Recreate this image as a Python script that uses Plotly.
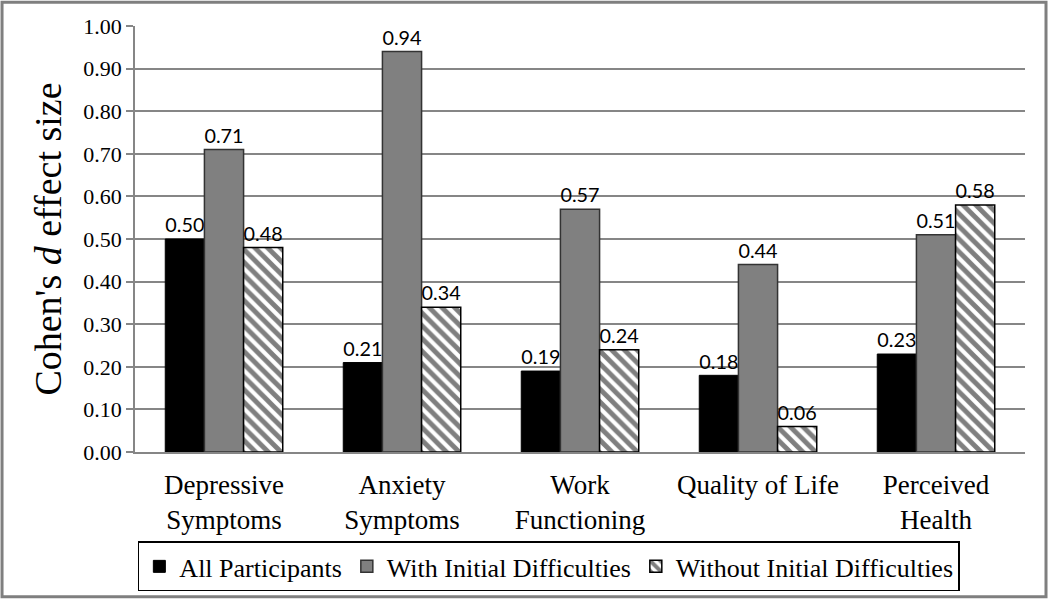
import plotly.graph_objects as go

# categories and series
outcomes = ["Depressive<br>Symptoms", "Anxiety<br>Symptoms", "Work<br>Functioning",
            "Quality of Life", "Perceived<br>Health"]
series_names = ["All Participants", "With Initial Difficulties", "Without Initial Difficulties"]
all_participants = [0.50, 0.21, 0.19, 0.18, 0.23]
with_difficulties = [0.71, 0.94, 0.57, 0.44, 0.51]
without_difficulties = [0.48, 0.34, 0.24, 0.06, 0.58]
y_ticks = [0, 0.1, 0.2, 0.3, 0.4, 0.5, 0.6, 0.7, 0.8, 0.9, 1.0]

label_font = dict(family="Lato, Open Sans, sans-serif", size=21, color="black")
serif = "Liberation Serif, Times New Roman, serif"

fig = go.Figure()
fig.add_trace(go.Bar(
    x=outcomes, y=all_participants, name=series_names[0],
    marker=dict(color="black", line=dict(color="black", width=1)),
    text=[f"{v:.2f}" for v in all_participants], textposition="outside",
    textfont=label_font, cliponaxis=False,
))
fig.add_trace(go.Bar(
    x=outcomes, y=with_difficulties, name=series_names[1],
    marker=dict(color="#808080", line=dict(color="#333333", width=1.5)),
    text=[f"{v:.2f}" for v in with_difficulties], textposition="outside",
    textfont=label_font, cliponaxis=False,
))
fig.add_trace(go.Bar(
    x=outcomes, y=without_difficulties, name=series_names[2],
    marker=dict(color="white", line=dict(color="black", width=1.5),
                pattern=dict(shape="\\", fgcolor="black", bgcolor="white",
                             size=9, solidity=0.55)),
    text=[f"{v:.2f}" for v in without_difficulties], textposition="outside",
    textfont=label_font, cliponaxis=False,
))

fig.update_layout(
    width=1050, height=604,
    margin=dict(l=135, r=25, t=26, b=149),
    paper_bgcolor="white", plot_bgcolor="white",
    barmode="group", bargap=0.34, bargroupgap=0,
    font=dict(family=serif, color="black"),
    showlegend=True,
    legend=dict(orientation="h", x=0.465, xanchor="center", y=-0.21, yanchor="top",
                bordercolor="black", borderwidth=1.5, bgcolor="white",
                font=dict(family=serif, size=26), itemwidth=30, traceorder="normal"),
    xaxis=dict(showline=True, linecolor="#868686", linewidth=1.5,
               tickfont=dict(family=serif, size=27), ticks="", ticklabelstandoff=8),
    yaxis=dict(range=[0, 1.0], tickvals=y_ticks, tickformat=".2f",
               showgrid=True, gridcolor="#868686", gridwidth=1.5,
               showline=True, linecolor="#868686", linewidth=1.5,
               ticks="outside", ticklen=7, tickcolor="#868686", tickwidth=1.5,
               tickfont=dict(family=serif, size=22), zeroline=False,
               title=dict(text="Cohen's <i>d</i> effect size",
                          font=dict(family=serif, size=38), standoff=10)),
)

# outer frame around the whole figure
fig.add_shape(type="rect", xref="paper", yref="paper",
              x0=-0.1494, x1=1.0236, y0=-0.340, y1=1.056,
              line=dict(color="#7f7f7f", width=3))

fig.write_html("out.html", config={"displayModeBar": False},
               post_script="document.body.style.margin='0px';")
